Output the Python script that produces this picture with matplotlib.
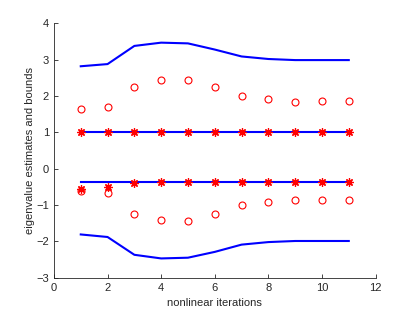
import matplotlib.pyplot as plt

iters = [1, 2, 3, 4, 5, 6, 7, 8, 9, 10, 11]

upper_bound = [2.82, 2.88, 3.38, 3.47, 3.45, 3.28, 3.09, 3.02, 2.99, 2.99, 2.99]
lower_bound = [-1.81, -1.88, -2.37, -2.47, -2.45, -2.29, -2.09, -2.02, -1.99, -1.99, -1.99]
upper_est = [1.63, 1.69, 2.26, 2.43, 2.44, 2.24, 2.01, 1.93, 1.85, 1.87, 1.87]
lower_est = [-0.62, -0.68, -1.26, -1.42, -1.44, -1.24, -1.01, -0.93, -0.85, -0.86, -0.86]
eig_top = [1.0] * 11
eig_bot = [-0.37] * 11
ritz_top = [1.0] * 11
ritz_bot = [-0.57, -0.49, -0.38, -0.37, -0.37, -0.37, -0.37, -0.37, -0.37, -0.37, -0.37]

plt.rcParams['font.family'] = ['Liberation Sans', 'DejaVu Sans']

fig = plt.figure(figsize=(4.15, 3.12), dpi=100)
ax = fig.add_axes([0.13, 0.11, 0.775, 0.815])

blue = (0, 0, 1)
red = (1, 0, 0)
ax.plot(iters, upper_bound, color=blue, lw=1.5)
ax.plot(iters, lower_bound, color=blue, lw=1.5)
ax.plot(iters, eig_top, color=blue, lw=1.5)
ax.plot(iters, eig_bot, color=blue, lw=1.5)
ax.plot(iters, upper_est, 'o', color=red, mfc='none', ms=5, mew=0.8)
ax.plot(iters, lower_est, 'o', color=red, mfc='none', ms=5, mew=0.8)
# MATLAB-like asterisk marker
ax.plot(iters, ritz_top, ls='none', marker=(8, 2, 0), color=red, ms=6, mew=0.9)
ax.plot(iters, ritz_bot, ls='none', marker=(8, 2, 0), color=red, ms=6, mew=0.9)

ax.set_xlim(0, 12)
ax.set_ylim(-3, 4)
ax.set_xticks([0, 2, 4, 6, 8, 10, 12])
ax.set_yticks([-3, -2, -1, 0, 1, 2, 3, 4])

gray = (0.15, 0.15, 0.15)
for s in ['top', 'right']:
    ax.spines[s].set_visible(False)
for s in ['left', 'bottom']:
    ax.spines[s].set_color(gray)
    ax.spines[s].set_linewidth(0.6)
ax.tick_params(direction='in', length=3, width=0.6, colors=gray, labelsize=8)

ax.set_xlabel('nonlinear iterations', fontsize=8, color=gray, labelpad=4)
ax.set_ylabel('eigenvalue estimates and bounds', fontsize=8, color=gray, labelpad=1)

fig.savefig('out.png', dpi=100)
